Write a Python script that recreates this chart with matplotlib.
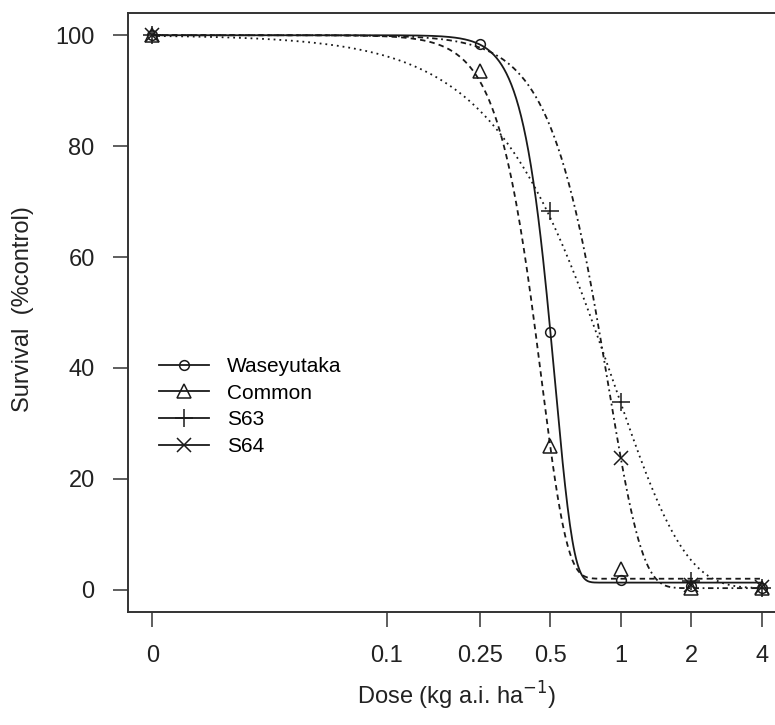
import numpy as np
import matplotlib.pyplot as plt
from matplotlib.lines import Line2D

plt.rcParams['font.family'] = ['Liberation Sans', 'DejaVu Sans']

INK = '#1a1a1a'
TEXT = '#222222'

# dose 0 is drawn at the broken-axis point
BREAK_DOSE = 0.01

names = ["Waseyutaka", "Common", "S63", "S64"]

# observed survival (% of control)
dose_wase = [0, 0.25, 0.5, 1, 2, 4]
surv_wase = [100, 98.5, 46.5, 1.8, 0.6, 0.3]
dose_common = [0, 0.25, 0.5, 1, 2, 4]
surv_common = [100, 93.5, 25.9, 3.8, 0.4, 0.3]
dose_s63 = [0, 0.5, 1, 2, 4]
surv_s63 = [100, 68.3, 33.8, 1.5, 0.4]
dose_s64 = [0, 1, 2, 4]
surv_s64 = [100, 23.7, 0.8, 0.5]

# fitted Weibull (W1.4) curves: slope b, lower c, upper d, e
fit_b = [5.5, 4.0, 1.45, 3.0]
fit_c = [1.3, 2.0, 0.3, 0.3]
fit_d = [100, 100, 100, 100]
fit_e = [0.524, 0.459, 0.94, 0.885]

xtick_vals = [0.01, 0.1, 0.25, 0.5, 1, 2, 4]
xtick_labels = ["0", "0.1", "0.25", "0.5", "1", "2", "4"]
ytick_vals = [0, 20, 40, 60, 80, 100]

markers = ['o', '^', '+', 'x']
msizes = [7, 10, 13, 10]
styles = ['-', (0, (3, 2.3)), (0, (1, 2.2)), (0, (1, 2, 3, 2))]


def w14(x, b, c, d, e):
    return c + (d - c) * np.exp(-np.exp(b * (np.log(x) - np.log(e))))


fig = plt.figure(figsize=(7.75, 7.25), dpi=100)
ax = fig.add_axes([128 / 775, 1 - 612 / 725, (786 - 128) / 775, (612 - 13) / 725])

xs = np.geomspace(BREAK_DOSE, 4, 500)
all_dose = [dose_wase, dose_common, dose_s63, dose_s64]
all_surv = [surv_wase, surv_common, surv_s63, surv_s64]

for i in range(4):
    ax.plot(xs, w14(xs, fit_b[i], fit_c[i], fit_d[i], fit_e[i]),
            color=INK, lw=1.3, linestyle=styles[i])
    dx = [d if d > 0 else BREAK_DOSE for d in all_dose[i]]
    ax.plot(dx, all_surv[i], linestyle='none', marker=markers[i], ms=msizes[i],
            mfc='none', mec=INK, mew=1.1)

ax.set_xscale('log')
ax.set_xlim(10 ** -2.104, 10 ** 0.706)
ax.set_ylim(-4, 104)
ax.set_xticks(xtick_vals)
ax.set_xticklabels(xtick_labels)
ax.xaxis.set_minor_locator(plt.NullLocator())
ax.set_yticks(ytick_vals)

ax.tick_params(axis='both', direction='out', length=11, width=1.1, color='#333333',
               labelsize=17, labelcolor=TEXT, pad=13)
for sp in ax.spines.values():
    sp.set_color('#333333')
    sp.set_linewidth(1.4)

fig.text(457 / 775, 1 - 705 / 725, r"Dose (kg a.i. ha$^{-1}$)", ha='center', va='baseline',
         fontsize=17, color=TEXT)
fig.text(23 / 775, 1 - 309 / 725, "Survival  (%control)", ha='center', va='center',
         rotation=90, fontsize=17, color=TEXT)

handles = [Line2D([], [], color=INK, lw=1.3, marker=markers[i], ms=msizes[i],
                  mfc='none', mec=INK, mew=1.1) for i in range(4)]
ax.legend(handles, names, loc='upper left', bbox_to_anchor=(159 / 775, 1 - 357 / 725),
          bbox_transform=fig.transFigure, frameon=False, fontsize=15,
          handlelength=2.4, handletextpad=0.85, labelspacing=0.37,
          borderpad=0, borderaxespad=0)

fig.savefig('out.png', dpi=100)
